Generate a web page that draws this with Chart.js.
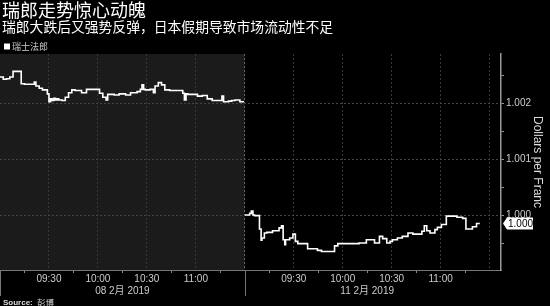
<!DOCTYPE html>
<html><head><meta charset="utf-8">
<script src="https://cdn.jsdelivr.net/npm/chart.js@4"></script>
<style>html,body{margin:0;padding:0;background:#000;overflow:hidden;} canvas{display:block;}</style>
</head><body>
<canvas id="c" width="550" height="306"></canvas>
<script>
const titleText = '瑞郎走势惊心动魄';
const subtitleText = '瑞郎大跌后又强势反弹，日本假期导致市场流动性不足';
const seriesLabel = '瑞士法郎';
const sourceLabel = 'Source:';
const sourceName = '彭博';
const yAxisTitle = 'Dollars per Franc';

// minutes since 09:00 on 08 Feb (0..150), then 11 Feb session from 150
const day1Minutes = [0,2,4,6,8,10,12,13,15,17,19,21,22,24,26,29,30,31,32,33,34,35,36,38,40,42,44,46,48,50,53,56,59,61,63,65,66,68,70,73,77,80,84,86,87,88,89,92,94,95,97,99,101,104,109,112,113,114,115,118,121,124,127,130,133,136,137,140,142,144,147,149.5];
const day1Values = [1.00247,1.00243,1.00244,1.00247,1.00257,1.00257,1.00257,1.00235,1.00234,1.00234,1.00234,1.00238,1.00231,1.00227,1.00224,1.00217,1.00203,1.00208,1.00205,1.00209,1.00206,1.00208,1.00206,1.00205,1.00211,1.00219,1.00224,1.00223,1.00223,1.00219,1.00225,1.00225,1.00225,1.00218,1.00211,1.00206,1.00216,1.00216,1.00215,1.00217,1.00215,1.00219,1.00221,1.00225,1.00233,1.00225,1.00224,1.00225,1.00219,1.00231,1.00237,1.00233,1.00224,1.00223,1.00223,1.00218,1.00206,1.00217,1.00216,1.00216,1.00213,1.00214,1.00208,1.00205,1.00205,1.00213,1.00203,1.00204,1.00205,1.00206,1.00203,1.00203];
const day2Minutes = [150,153,154,155,156,159,160,160.5,162,163.5,167,171,172.5,173.5,174.5,175,177.5,179.5,181,182.5,188.5,194.5,197,205,207,220,224.5,229.5,232.5,234.5,237,239,240.5,243.5,246.5,250,253,258.5,260,261.5,263.5,266.5,268,270.5,273.5,280,283.5,285.5,289.5,292,294];
const day2Values = [1.00001,1.00004,1.00008,1.00001,1.00000,0.99976,0.99956,0.99960,0.99969,0.99970,0.99973,0.99978,0.99982,0.99957,0.99948,0.99957,0.99960,0.99967,0.99954,0.99950,0.99941,0.99938,0.99936,0.99946,0.99950,0.99951,0.99957,0.99951,0.99963,0.99959,0.99951,0.99954,0.99957,0.99960,0.99963,0.99969,0.99967,0.99972,0.99982,0.99973,0.99969,0.99975,0.99979,0.99984,0.99999,0.99997,0.99995,0.99976,0.99980,0.99986,0.99986];

const xTickMinutes = [0,15,30,45,60,75,90,105,120,135,150,165,180,195,210,225,240,255,270,285,300];
const xTickLabels = ['','','09:30','','10:00','','10:30','','11:00','','','','09:30','','10:00','','10:30','','11:00','',''];
const dateTickMinutes = [75,225];
const dateLabels = ['08 2月 2019','11 2月 2019'];
const sessionStarts = [0,150];
const xRange = [0,307];
const yTickValues = [0.9995,1.0,1.0005,1.001,1.0015,1.002,1.0025];
const yTickLabels = ['','1.000','','1.001','','1.002',''];
const yRange = [0.99903,1.00288];

const points = [];
day1Minutes.forEach((m,i)=>points.push({x:m,y:day1Values[i]}));
points.push({x:149.9,y:null});
day2Minutes.forEach((m,i)=>points.push({x:m,y:day2Values[i]}));

const LAT = "'Liberation Sans', Arial, 'Noto Sans CJK SC', sans-serif";
const CJK = "'Noto Sans CJK SC', sans-serif";

const decor = {
  id:'decor',
  beforeDraw(chart){
    const {ctx, chartArea:a, scales:{x}} = chart;
    ctx.save();
    ctx.fillStyle = '#000';
    ctx.fillRect(0,0,chart.width,chart.height);
    const x0 = x.getPixelForValue(sessionStarts[0]);
    const x1 = x.getPixelForValue(sessionStarts[1]);
    ctx.fillStyle = '#1b1b1b';
    ctx.fillRect(x0, a.top, x1-x0, a.bottom-a.top);
    ctx.restore();
  },
  afterDraw(chart){
    const {ctx, chartArea:a, scales:{x,y}} = chart;
    ctx.save();
    ctx.strokeStyle = '#777';
    ctx.lineWidth = 1;
    sessionStarts.forEach(s=>{
      const px = Math.round(x.getPixelForValue(s)) + 0.5;
      ctx.beginPath(); ctx.moveTo(px, a.bottom); ctx.lineTo(px, a.bottom+26); ctx.stroke();
    });
    const last = day2Values[day2Values.length-1];
    const py = y.getPixelForValue(last);
    const lx = a.right + 2;
    ctx.fillStyle = '#fff';
    ctx.beginPath();
    ctx.moveTo(lx, py);
    ctx.lineTo(lx+4, py-6);
    ctx.lineTo(lx+30, py-6);
    ctx.lineTo(lx+30, py+6);
    ctx.lineTo(lx+4, py+6);
    ctx.closePath(); ctx.fill();
    ctx.fillStyle = '#000';
    ctx.font = '10px ' + LAT;
    ctx.textBaseline = 'middle';
    ctx.textAlign = 'left';
    ctx.fillText(last.toFixed(3), lx+5, py+0.5);
    ctx.fillStyle = '#fff';
    ctx.font = '18px ' + CJK;
    ctx.fillText(titleText, 2, 10);
    ctx.font = '13.8px ' + CJK;
    ctx.fillText(subtitleText, 2, 27);
    ctx.fillStyle = '#fff';
    ctx.fillRect(4, 43.5, 6, 6);
    ctx.fillStyle = '#ccc';
    ctx.font = '9px ' + CJK;
    ctx.fillText(seriesLabel, 12, 46.5);
    ctx.fillStyle = '#ddd';
    ctx.font = 'bold 8px ' + LAT;
    ctx.fillText(sourceLabel, 3, 302.5);
    const w = ctx.measureText(sourceLabel + ' ').width;
    ctx.font = '8.5px ' + CJK;
    ctx.fillText(sourceName, 3 + w + 2, 302.5);
    ctx.restore();
  }
};

new Chart(document.getElementById('c'), {
  type:'line',
  data:{datasets:[{
    label: seriesLabel,
    data: points,
    borderColor:'#fff',
    borderWidth:1.6,
    pointRadius:0,
    stepped:true,
    spanGaps:false,
    tension:0
  }]},
  options:{
    responsive:false,
    animation:false,
    layout:{padding:{top:54,left:0,right:0,bottom:0}},
    plugins:{legend:{display:false},tooltip:{enabled:false},title:{display:false}},
    scales:{
      x:{
        type:'linear', position:'bottom', min:xRange[0], max:xRange[1],
        afterBuildTicks(s){ s.ticks = xTickMinutes.map(v=>({value:v})); },
        afterFit(s){ s.height = 15; },
        border:{display:true,color:'#777',width:1,dash:[2,2]},
        grid:{
          drawTicks:true, tickLength:3,
          color:(c)=>{ const v=c.tick?c.tick.value:-1; if(v===sessionStarts[1]) return '#666'; return (v%30===0 && v!==0)?'#383838':'rgba(0,0,0,0)'; },
          tickColor:(c)=>{ const v=c.tick?c.tick.value:-1; return (v%30===15)?'#888':'rgba(0,0,0,0)'; },
          lineWidth:1
        },
        ticks:{
          autoSkip:false, maxRotation:0, padding:0, color:'#ccc',
          font:{family:LAT,size:10},
          callback:(v,i)=>xTickLabels[i]
        }
      },
      x2:{
        type:'linear', position:'bottom', min:xRange[0], max:xRange[1],
        afterBuildTicks(s){ s.ticks = dateTickMinutes.map(v=>({value:v})); },
        afterFit(s){ s.height = 21; },
        border:{display:false},
        grid:{display:false, drawTicks:false},
        ticks:{
          autoSkip:false, maxRotation:0, padding:0, color:'#ccc',
          font:{family:LAT,size:10},
          callback:(v,i)=>dateLabels[i]
        }
      },
      y:{
        type:'linear', position:'right', min:yRange[0], max:yRange[1],
        afterBuildTicks(s){ s.ticks = yTickValues.map(v=>({value:v})); },
        afterFit(s){ s.width = 49; },
        border:{display:true,color:'#999',width:1.5,dash:[2,2]},
        grid:{
          drawTicks:true, tickLength:3,
          color:(c)=>{ const i=c.index; return (yTickLabels[i])?'#444':'rgba(0,0,0,0)'; },
          tickColor:'#999', lineWidth:1
        },
        ticks:{
          padding:2, color:'#ccc', font:{family:LAT,size:10},
          callback:(v,i)=>yTickLabels[i]
        },
        title:{display:true,text:yAxisTitle,color:'#ddd',font:{family:LAT,size:12},padding:{top:5,bottom:0}}
      }
    }
  },
  plugins:[decor]
});
</script>
</body></html>
